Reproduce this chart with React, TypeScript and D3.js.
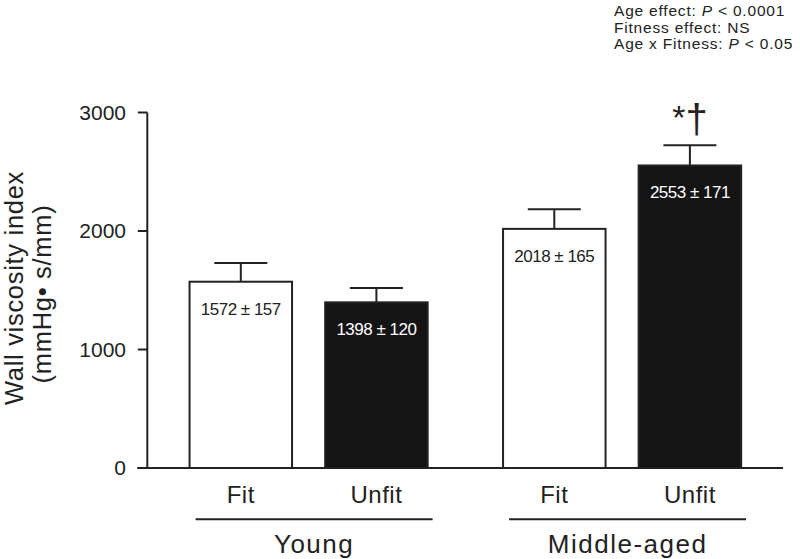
import React from "react";
import * as d3 from "d3";

const groups = ["Young", "Middle-aged"];
const fitness = ["Fit", "Unfit"];
const means = [1572, 1398, 2018, 2553];
const sems = [157, 120, 165, 171];
const yTicks = [0, 1000, 2000, 3000];
const annotations = [
  ["Age effect: ", "P", " < 0.0001"],
  ["Fitness effect: NS", "", ""],
  ["Age x Fitness: ", "P", " < 0.05"],
];
const significance = ["", "", "", "*†"];

const W = 800;
const H = 559;
const FONT = "'Liberation Sans', Arial, Helvetica, sans-serif";

export default function App() {
  const y = d3.scaleLinear().domain([0, 3000]).range([468, 112.5]);
  const gx = d3.scalePoint<string>().domain(groups).range([308.6, 622.1]);
  const ix = d3.scalePoint<string>().domain(fitness).range([-67.8, 67.8]);
  const barW = 102.5;
  const capW = 53;
  const axisX = 147.3;

  const bars = groups.flatMap((g, gi) =>
    fitness.map((f, fi) => {
      const i = gi * fitness.length + fi;
      return {
        g,
        f,
        i,
        cx: (gx(g) as number) + (ix(f) as number),
        mean: means[i],
        sem: sems[i],
        sig: significance[i],
      };
    })
  );

  return (
    <svg
      width={W}
      height={H}
      style={{ position: "absolute", left: 0, top: 0, background: "#fff" }}
      fontFamily={FONT}
    >
      <rect x={0} y={0} width={W} height={H} fill="#fff" />

      {/* annotations */}
      {annotations.map((a, k) => (
        <text
          key={k}
          x={614}
          y={16 + k * 16.7}
          fontSize={15.5}
          letterSpacing={0.8}
          fill="#222"
        >
          {a[0]}
          {a[1] && <tspan fontStyle="italic">{a[1]}</tspan>}
          {a[2]}
        </text>
      ))}

      {/* y axis */}
      <line x1={axisX} x2={axisX} y1={y(3000)} y2={y(0)} stroke="#222" strokeWidth={2} />
      {yTicks.map((t) => (
        <g key={t}>
          <line x1={axisX - 9.5} x2={axisX} y1={y(t)} y2={y(t)} stroke="#222" strokeWidth={2} />
          <text
            x={126}
            y={y(t)}
            dy="0.35em"
            textAnchor="end"
            fontSize={21}
            fill="#222"
          >
            {t}
          </text>
        </g>
      ))}

      {/* y title */}
      <text
        transform={`translate(22.5,288) rotate(-90)`}
        textAnchor="middle"
        fontSize={25.5}
        letterSpacing={0.7}
        fill="#222"
      >
        Wall viscosity index
      </text>
      <text
        transform={`translate(51,294) rotate(-90)`}
        textAnchor="middle"
        fontSize={25.5}
        letterSpacing={0.7}
        fill="#222"
      >
        (mmHg• s/mm)
      </text>

      {/* bars */}
      {bars.map((b) => {
        const dark = b.f === "Unfit";
        return (
          <g key={b.i}>
            <line
              x1={b.cx}
              x2={b.cx}
              y1={y(b.mean)}
              y2={y(b.mean + b.sem)}
              stroke="#222"
              strokeWidth={2}
            />
            <line
              x1={b.cx - capW / 2}
              x2={b.cx + capW / 2}
              y1={y(b.mean + b.sem)}
              y2={y(b.mean + b.sem)}
              stroke="#222"
              strokeWidth={2}
            />
            <rect
              x={b.cx - barW / 2}
              y={y(b.mean)}
              width={barW}
              height={y(0) - y(b.mean)}
              fill={dark ? "#141414" : "#fff"}
              stroke="#222"
              strokeWidth={2}
            />
            <text
              x={b.cx}
              y={y(b.mean) + 33}
              textAnchor="middle"
              fontSize={17}
              letterSpacing={-0.5}
              fill={dark ? "#fff" : "#222"}
            >
              {`${b.mean} ± ${b.sem}`}
            </text>
            {b.sig && (
              <text
                x={b.cx}
                y={y(b.mean + b.sem) - 12}
                textAnchor="middle"
                fill="#222"
              >
                <tspan fontSize={34} dy={-4}>{b.sig[0]}</tspan>
                <tspan fontSize={40} dy={4}>{b.sig[1]}</tspan>
              </text>
            )}
            <text
              x={b.cx}
              y={503.3}
              textAnchor="middle"
              fontSize={24}
              fill="#222"
              letterSpacing={0.5}
            >
              {b.f}
            </text>
          </g>
        );
      })}

      {/* baseline */}
      <line x1={axisX - 10} x2={783} y1={y(0)} y2={y(0)} stroke="#222" strokeWidth={2} />

      {/* group lines & labels */}
      {groups.map((g) => {
        const c = gx(g) as number;
        return (
          <g key={g}>
            <line x1={c - 113} x2={c + 124} y1={519.3} y2={519.3} stroke="#222" strokeWidth={2} />
            <text
              x={c + 5.5}
              y={552.7}
              textAnchor="middle"
              fontSize={26}
              letterSpacing={1.5}
              fill="#222"
            >
              {g}
            </text>
          </g>
        );
      })}
    </svg>
  );
}
